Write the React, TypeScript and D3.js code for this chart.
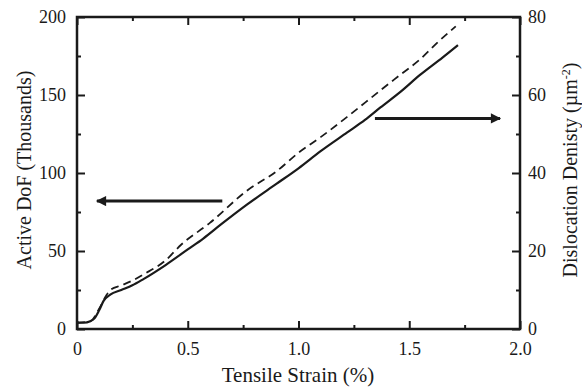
import React, { useEffect, useRef } from "react";
import * as d3 from "d3";

// strain (%) and active DoF (thousands) - solid line, left axis
const strainDoF = [0, 0.03, 0.06, 0.08, 0.1, 0.12, 0.15, 0.2, 0.25, 0.3, 0.4, 0.5, 0.57, 0.65, 0.77, 0.9, 1.0, 1.1, 1.22, 1.3, 1.37, 1.46, 1.55, 1.65, 1.72];
const activeDoF = [4, 4, 5, 7, 12, 18, 22, 25, 28, 32, 41, 51, 58, 67, 80, 93, 103, 114, 126, 134, 142, 152, 163, 174, 182];

// strain (%) and dislocation density (um^-2) - dashed line, right axis
const strainRho = [0, 0.06, 0.1, 0.13, 0.15, 0.2, 0.25, 0.3, 0.4, 0.47, 0.6, 0.77, 0.9, 1.0, 1.1, 1.22, 1.37, 1.46, 1.55, 1.63, 1.71];
const dislocationDensity = [1.6, 2, 5.2, 8.4, 10, 11.2, 12.4, 14, 17.6, 21.6, 27.2, 35.6, 40.4, 45.2, 49.2, 54.4, 61.2, 65.2, 69.2, 73.6, 77.6];

const xTicks = [0, 0.5, 1.0, 1.5, 2.0];
const leftTicks = [0, 50, 100, 150, 200];
const rightTicks = [0, 20, 40, 60, 80];

export default function App() {
  const ref = useRef<SVGSVGElement>(null);

  useEffect(() => {
    const svg = d3.select(ref.current);
    svg.selectAll("*").remove();

    const margin = { top: 17, right: 62, bottom: 60, left: 77 };
    const W = 582, H = 389;
    const width = W - margin.left - margin.right;
    const height = H - margin.top - margin.bottom;
    const font = "Liberation Serif, Times New Roman, DejaVu Serif, serif";
    const ink = "#1a1a1a";

    const g = svg.append("g").attr("transform", `translate(${margin.left},${margin.top})`);

    const x = d3.scaleLinear().domain([0, 2]).range([0, width]);
    const yL = d3.scaleLinear().domain([0, 200]).range([height, 0]);
    const yR = d3.scaleLinear().domain([0, 80]).range([height, 0]);

    const style = (sel: any) => {
      sel.attr("font-family", font).attr("font-size", 18);
      sel.select(".domain").remove();
      sel.selectAll("line").attr("stroke", ink).attr("stroke-width", 2);
      sel.selectAll("text").attr("fill", ink);
    };

    const xFmt = (d: any) => (d === 0 ? "0" : d3.format(".1f")(d));

    // bottom axis
    g.append("g").attr("transform", `translate(0,${height})`)
      .call(d3.axisBottom(x).tickValues(xTicks).tickFormat(xFmt).tickSizeInner(-8).tickSizeOuter(0).tickPadding(13))
      .call(style);
    g.append("g").attr("transform", `translate(0,${height})`)
      .call(d3.axisBottom(x).tickValues([0.25, 0.75, 1.25, 1.75]).tickFormat(() => "").tickSizeInner(-4).tickSizeOuter(0))
      .call(style);
    // top axis ticks
    g.append("g")
      .call(d3.axisTop(x).tickValues(xTicks).tickFormat(() => "").tickSizeInner(-8).tickSizeOuter(0))
      .call(style);
    g.append("g")
      .call(d3.axisTop(x).tickValues([0.25, 0.75, 1.25, 1.75]).tickFormat(() => "").tickSizeInner(-4).tickSizeOuter(0))
      .call(style);

    // left axis
    g.append("g")
      .call(d3.axisLeft(yL).tickValues(leftTicks).tickFormat(d3.format("d")).tickSizeInner(-8).tickSizeOuter(0).tickPadding(11))
      .call(style);
    g.append("g")
      .call(d3.axisLeft(yL).tickValues([25, 75, 125, 175]).tickFormat(() => "").tickSizeInner(-4).tickSizeOuter(0))
      .call(style);

    // right axis
    g.append("g").attr("transform", `translate(${width},0)`)
      .call(d3.axisRight(yR).tickValues(rightTicks).tickFormat(d3.format("d")).tickSizeInner(-8).tickSizeOuter(0).tickPadding(8))
      .call(style);
    g.append("g").attr("transform", `translate(${width},0)`)
      .call(d3.axisRight(yR).tickValues([10, 30, 50, 70]).tickFormat(() => "").tickSizeInner(-4).tickSizeOuter(0))
      .call(style);

    // frame
    g.append("rect")
      .attr("width", width).attr("height", height)
      .attr("fill", "none").attr("stroke", ink).attr("stroke-width", 2.5);

    // curves
    const solidLine = d3.line<number>()
      .x((d, i) => x(strainDoF[i]))
      .y(d => yL(d))
      .curve(d3.curveMonotoneX);
    g.append("path")
      .datum(activeDoF)
      .attr("d", solidLine)
      .attr("fill", "none").attr("stroke", ink).attr("stroke-width", 2.2);

    const dashLine = d3.line<number>()
      .x((d, i) => x(strainRho[i]))
      .y(d => yR(d))
      .curve(d3.curveMonotoneX);
    g.append("path")
      .datum(dislocationDensity)
      .attr("d", dashLine)
      .attr("fill", "none").attr("stroke", ink).attr("stroke-width", 1.8)
      .attr("stroke-dasharray", "8,5");

    // arrows
    svg.append("defs").append("marker")
      .attr("id", "arrowhead")
      .attr("viewBox", "0 0 10 10")
      .attr("refX", 9).attr("refY", 5)
      .attr("markerWidth", 4).attr("markerHeight", 3.4)
      .attr("markerUnits", "strokeWidth")
      .attr("orient", "auto")
      .append("path").attr("d", "M0,0 L10,5 L0,10 Z").attr("fill", ink);

    g.append("line")
      .attr("x1", x(0.656)).attr("x2", x(0.09))
      .attr("y1", yL(82)).attr("y2", yL(82))
      .attr("stroke", ink).attr("stroke-width", 3)
      .attr("marker-end", "url(#arrowhead)");
    g.append("line")
      .attr("x1", x(1.345)).attr("x2", x(1.91))
      .attr("y1", yR(54)).attr("y2", yR(54))
      .attr("stroke", ink).attr("stroke-width", 3)
      .attr("marker-end", "url(#arrowhead)");

    // axis titles
    const title = (sel: any) =>
      sel.attr("text-anchor", "middle").attr("font-family", font).attr("font-size", 20).attr("fill", ink);

    svg.append("text")
      .attr("x", 298).attr("y", 382)
      .call(title)
      .attr("font-size", 21)
      .text("Tensile Strain (%)");

    svg.append("text")
      .attr("transform", `translate(31,170) rotate(-90)`)
      .call(title)
      .text("Active DoF (Thousands)");

    const rt = svg.append("text")
      .attr("transform", `translate(577,170) rotate(-90)`)
      .call(title);
    rt.append("tspan").text("Dislocation Denisty (µm");
    rt.append("tspan").attr("dy", -7).attr("font-size", 12).text("-2");
    rt.append("tspan").attr("dy", 7).text(")");
  }, []);

  return (
    <svg ref={ref} width={582} height={389}
      style={{ position: "absolute", left: 0, top: 0, background: "#fff" }} />
  );
}
